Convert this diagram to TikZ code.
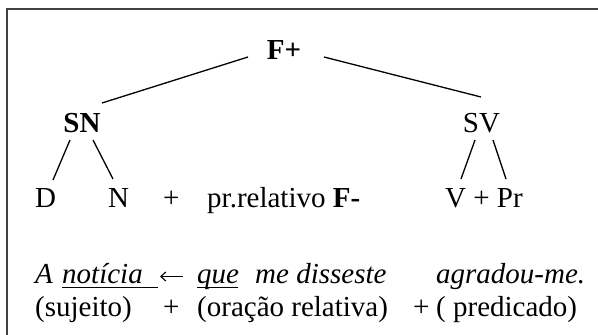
\documentclass[tikz,border=0pt]{standalone}
\usepackage{fontspec}
\setmainfont{Liberation Serif}
\usetikzlibrary{arrows.meta}
\begin{document}
\begin{tikzpicture}[x=1pt,y=-1pt,
  txt/.style={inner sep=0pt,anchor=base west,font=\fontsize{29}{33}\selectfont},
  ctr/.style={inner sep=0pt,anchor=base,font=\fontsize{29}{33}\selectfont},
  branch/.style={line width=1.3pt,black},
  uline/.style={line width=1.3pt,black},
  larrow/.style={line width=1.1pt,black,-{Straight Barb[length=5pt,width=9pt]}},
  frame/.style={line width=1.6pt,black!75}]
\useasboundingbox (0,0) rectangle (598,335);
\draw[frame] (7,335) -- (7,9) -- (598,9);
% tree labels
\node[ctr,font=\fontsize{29}{33}\selectfont\bfseries] (Fp) at (284,59) {F+};
\node[ctr,font=\fontsize{29}{33}\selectfont\bfseries] (SN) at (82,132) {SN};
\node[ctr] (SV) at (481.5,132) {SV};
% row 1
\node[txt] (D) at (35,207) {D};
\node[txt] (N) at (108,207) {N};
\node[txt] (plus1) at (163,207) {+};
\node[txt] (pr) at (207,207) {pr.relativo \textbf{F-}};
\node[txt] (VPr) at (445,207) {V + Pr};
% connector ends
\coordinate (FpL) at (248,57);
\coordinate (SNt) at (102,103);
\coordinate (FpR) at (324,57);
\coordinate (SVt) at (481,97);
\coordinate (SNa) at (70,140); \coordinate (Da) at (53,180);
\coordinate (SNb) at (93,140); \coordinate (Na) at (113,179);
\coordinate (SVa) at (475,140); \coordinate (Va) at (461,179);
\coordinate (SVb) at (493,140); \coordinate (Pra) at (506,179);
\draw[branch] (FpL) -- (SNt);
\draw[branch] (FpR) -- (SVt);
\draw[branch] (SNa) -- (Da);
\draw[branch] (SNb) -- (Na);
\draw[branch] (SVa) -- (Va);
\draw[branch] (SVb) -- (Pra);
% row 2
\node[txt] (A) at (35,283) {\itshape A};
\node[txt] (noticia) at (62,283) {\itshape notícia};
\coordinate (arrS) at (183,276.5); \coordinate (arrE) at (160,276.5);
\draw[larrow] (arrS) -- (arrE);
\node[txt] (que) at (197,283) {\itshape que};
\node[txt] (disse) at (255,283) {\itshape me disseste};
\node[txt] (agrad) at (436,283) {\itshape agradou-me.};
\coordinate (u1a) at (62,287.5); \coordinate (u1b) at (158,287.5);
\coordinate (u2a) at (197,287.5); \coordinate (u2b) at (238,287.5);
\draw[uline] (u1a) -- (u1b);
\draw[uline] (u2a) -- (u2b);
% row 3
\node[txt] (suj) at (35,316) {(sujeito)};
\node[txt] (plus2) at (163,316) {+};
\node[txt] (orac) at (197,316) {(oração relativa)};
\node[txt] (plus3) at (413,316) {+};
\node[txt] (pred) at (436,316) {( predicado)};
\end{tikzpicture}
\end{document}
